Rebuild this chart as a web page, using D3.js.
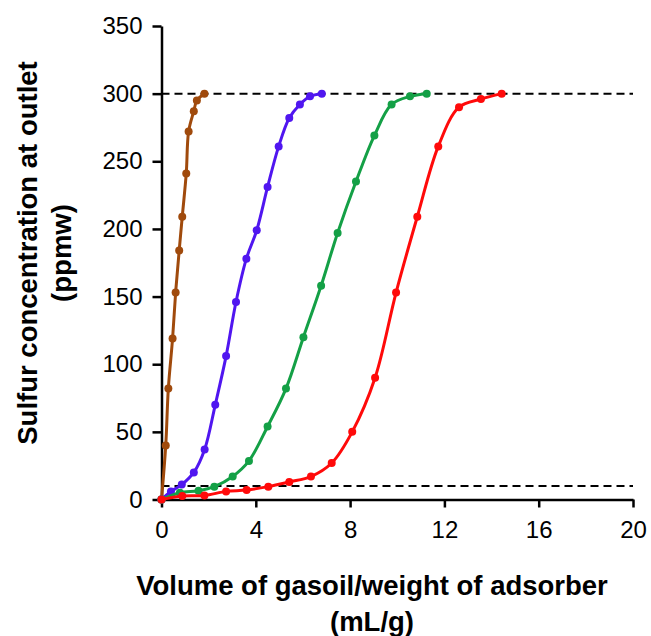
<!DOCTYPE html>
<html>
<head>
<meta charset="utf-8">
<script src="https://cdn.jsdelivr.net/npm/d3@7"></script>
<style>
  html, body { margin: 0; padding: 0; background: #fff; }
  svg { display: block; }
  text { font-family: "Liberation Sans", Arial, sans-serif; fill: #000; }
</style>
</head>
<body>
<script>
// Breakthrough curves: outlet sulfur vs. treated volume per adsorber weight
const xTicks = [0, 4, 8, 12, 16, 20];
const yTicks = [0, 50, 100, 150, 200, 250, 300, 350];
const feedLevel = 300;   // inlet concentration (ppmw)
const limitLevel = 10;   // breakthrough limit (ppmw)

const brownX = [0, 0.18, 0.29, 0.47, 0.60, 0.75, 0.88, 1.05, 1.15, 1.37, 1.50, 1.82];
const brownY = [0, 40, 82, 119, 153, 184, 209, 241, 272, 287, 295, 300];

const blueX = [0, 0.40, 0.86, 1.37, 1.83, 2.28, 2.74, 3.16, 3.60, 4.04, 4.50, 4.97, 5.42, 5.87, 6.30, 6.80];
const blueY = [0, 6, 11, 20, 37, 70, 106, 146, 178, 199, 231, 261, 282, 292, 298, 300];

const greenX = [0, 0.78, 1.57, 2.24, 3.02, 3.71, 4.50, 5.28, 6.02, 6.77, 7.47, 8.25, 9.03, 9.76, 10.54, 11.25];
const greenY = [0, 5, 6.5, 9.5, 17, 28.5, 54, 82, 120, 158, 197, 235, 269, 292, 298, 300];

const redX = [0, 0.88, 1.82, 2.74, 3.61, 4.53, 5.42, 6.34, 7.22, 8.09, 9.06, 9.95, 10.85, 11.74, 12.62, 13.55, 14.43];
const redY = [0, 2.5, 3, 6, 7, 9.5, 13, 17, 27, 50, 90, 153, 209, 261, 290, 296, 300];

const seriesColors = ["#a04a0c", "#5016f0", "#14a046", "#ff0a0a"];

const series = [
  { xs: brownX, ys: brownY, color: seriesColors[0] },
  { xs: blueX,  ys: blueY,  color: seriesColors[1] },
  { xs: greenX, ys: greenY, color: seriesColors[2] },
  { xs: redX,   ys: redY,   color: seriesColors[3] }
];

const W = 651, H = 636;
const svg = d3.select("body").append("svg").attr("width", W).attr("height", H);

const x = d3.scaleLinear().domain([0, 20]).range([161.5, 633]);
const y = d3.scaleLinear().domain([0, 350]).range([499.5, 26]);

// Reference levels
[feedLevel, limitLevel].forEach(v => {
  svg.append("line")
    .attr("x1", x(0)).attr("x2", x(20))
    .attr("y1", y(v)).attr("y2", y(v))
    .attr("stroke", "#000").attr("stroke-width", 2)
    .attr("stroke-dasharray", "8,5");
});

// Axes
const xAxis = svg.append("g")
  .attr("transform", `translate(0,${y(0)})`)
  .call(d3.axisBottom(x).tickValues(xTicks).tickSize(8).tickPadding(13).tickSizeOuter(0));
const yAxis = svg.append("g")
  .attr("transform", `translate(${x(0)},0)`)
  .call(d3.axisLeft(y).tickValues(yTicks).tickSize(9).tickPadding(10).tickSizeOuter(0));

[xAxis, yAxis].forEach(g => {
  g.select(".domain").attr("stroke", "#000").attr("stroke-width", 2.5);
  g.selectAll(".tick line").attr("stroke", "#000").attr("stroke-width", 2.5);
  g.selectAll(".tick text")
    .style("font-family", "'Liberation Sans', Arial, sans-serif")
    .style("font-size", "24px").attr("fill", "#000");
});

// Curves with markers
const line = d3.line().curve(d3.curveCatmullRom.alpha(0.5));
series.forEach(s => {
  const pts = s.xs.map((v, i) => [x(v), y(s.ys[i])]);
  svg.append("path")
    .attr("d", line(pts))
    .attr("fill", "none")
    .attr("stroke", s.color)
    .attr("stroke-width", 3)
    .attr("stroke-linejoin", "round");
  svg.append("g").selectAll("circle").data(pts).join("circle")
    .attr("cx", d => d[0]).attr("cy", d => d[1])
    .attr("r", 4).attr("fill", s.color);
});

// Axis titles
const titleSize = "27.5px";
const yTitle = svg.append("g")
  .attr("transform", `translate(0,253) rotate(-90)`);
yTitle.append("text").attr("x", 0).attr("y", 37)
  .attr("text-anchor", "middle").style("font-weight", "bold").style("font-size", titleSize)
  .text("Sulfur concentration at outlet");
yTitle.append("text").attr("x", 0).attr("y", 71)
  .attr("text-anchor", "middle").style("font-weight", "bold").style("font-size", titleSize)
  .text("(ppmw)");

svg.append("text").attr("x", 372).attr("y", 595)
  .attr("text-anchor", "middle").style("font-weight", "bold").style("font-size", titleSize)
  .text("Volume of gasoil/weight of adsorber");
svg.append("text").attr("x", 372).attr("y", 631)
  .attr("text-anchor", "middle").style("font-weight", "bold").style("font-size", titleSize)
  .text("(mL/g)");
</script>
</body>
</html>
